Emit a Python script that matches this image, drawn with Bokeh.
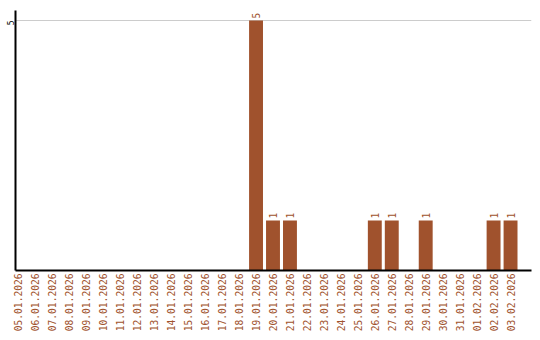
import math
from bokeh.plotting import figure
from bokeh.models import ColumnDataSource, FixedTicker, Range1d
from bokeh.core.properties import value
from bokeh.embed import file_html
from bokeh.resources import INLINE

dates = ["05.01.2026", "06.01.2026", "07.01.2026", "08.01.2026", "09.01.2026",
         "10.01.2026", "11.01.2026", "12.01.2026", "13.01.2026", "14.01.2026",
         "15.01.2026", "16.01.2026", "17.01.2026", "18.01.2026", "19.01.2026",
         "20.01.2026", "21.01.2026", "22.01.2026", "23.01.2026", "24.01.2026",
         "25.01.2026", "26.01.2026", "27.01.2026", "28.01.2026", "29.01.2026",
         "30.01.2026", "31.01.2026", "01.02.2026", "02.02.2026", "03.02.2026"]
counts = [0, 0, 0, 0, 0, 0, 0, 0, 0, 0, 0, 0, 0, 0, 5,
          1, 1, 0, 0, 0, 0, 1, 1, 0, 1, 0, 0, 0, 1, 1]
y_ticks = [5]

BAR = "#A0522D"
FONT = "DejaVu Sans Mono"
FS = "9.6px"

idx = list(range(len(dates)))
src = ColumnDataSource(dict(x=idx, top=counts))
lab_idx = [i for i, c in zip(idx, counts) if c > 0]
lab_val = [c for c in counts if c > 0]
lab_src = ColumnDataSource(dict(x=lab_idx, y=lab_val, t=[str(v) for v in lab_val]))

x_start, x_end = -0.176, 30.235
p = figure(width=540, height=340, output_backend="svg", toolbar_location=None,
           x_range=Range1d(x_start, x_end), y_range=Range1d(0, 5.2),
           min_border_left=11, min_border_right=9, min_border_top=10, min_border_bottom=70)
p.outline_line_color = None
p.background_fill_color = "white"
p.border_fill_color = "white"

p.vbar(x="x", top="top", width=0.82, bottom=0, source=src, fill_color=BAR, line_color=None)
p.text(x="x", y="y", text="t", source=lab_src, angle=math.pi / 2, y_offset=-2,
       text_align="left", text_baseline="middle", text_color=BAR,
       text_font=value(FONT), text_font_size=FS)

p.xaxis.ticker = FixedTicker(ticks=idx)
p.xaxis.major_label_overrides = {i: d for i, d in zip(idx, dates)}
p.xaxis.major_label_orientation = math.pi / 2
p.xaxis.major_label_text_color = BAR
p.xaxis.major_label_text_font = FONT
p.xaxis.major_label_text_font_size = FS
p.xaxis.major_label_standoff = 3
p.xaxis.major_tick_line_color = None
p.xaxis.major_tick_out = 0
p.xaxis.major_tick_in = 0
p.xaxis.minor_tick_line_color = None
p.xaxis.axis_line_width = 2
p.xaxis.axis_line_color = "black"

p.yaxis.ticker = FixedTicker(ticks=y_ticks)
p.yaxis.major_label_orientation = math.pi / 2
p.yaxis.major_label_text_color = "black"
p.yaxis.major_label_text_font = FONT
p.yaxis.major_label_text_font_size = "8px"
p.yaxis.major_label_standoff = 5
p.yaxis.major_tick_line_color = None
p.yaxis.major_tick_out = 0
p.yaxis.major_tick_in = 0
p.yaxis.minor_tick_line_color = None
p.yaxis.axis_line_width = 2
p.yaxis.axis_line_color = "black"

p.xgrid.grid_line_color = None
p.ygrid.grid_line_color = "#cccccc"
p.ygrid.grid_line_width = 1

open("out.html", "w").write(file_html(p, INLINE))
